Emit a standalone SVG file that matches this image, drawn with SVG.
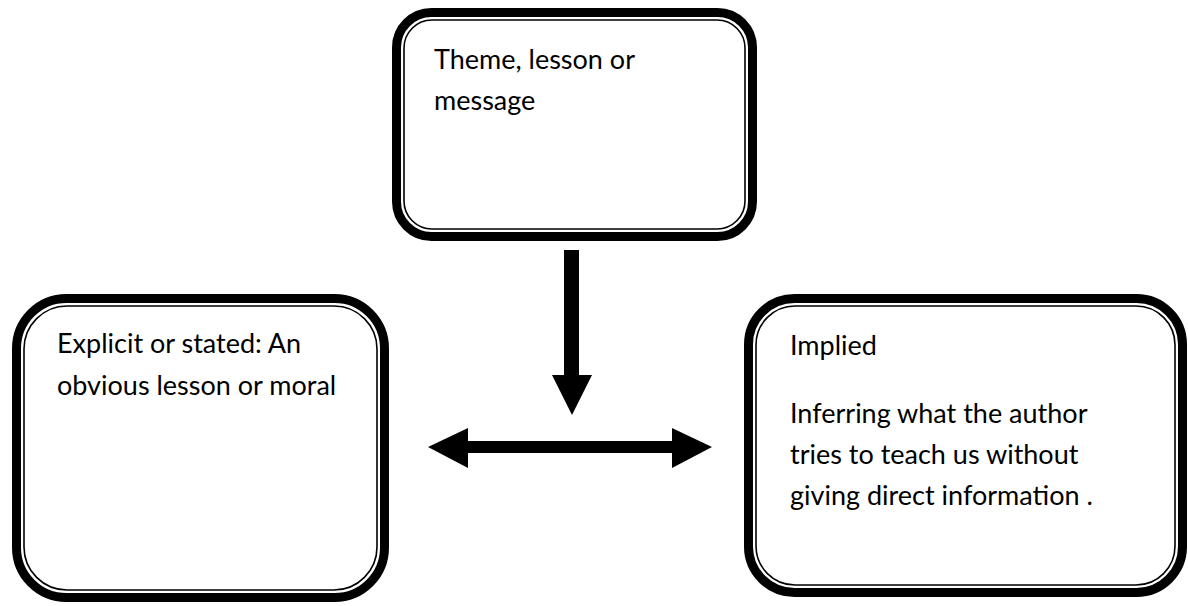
<svg xmlns="http://www.w3.org/2000/svg" width="1188" height="606" viewBox="0 0 1188 606">
<style>
.outer{fill:#fff;stroke:#000;stroke-width:9}
.inner{fill:none;stroke:#000;stroke-width:1.6}
.t{font-family:Lato,"Liberation Sans",sans-serif;font-size:27px;fill:#000}
</style>
<rect width="1188" height="606" fill="#fff"/>
<g id="theme">
<rect class="outer" x="396.5" y="12.5" width="356" height="224" rx="35"/>
<rect class="inner" x="404" y="20" width="341" height="209" rx="28"/>
<text class="t" x="434" y="69">Theme, lesson or</text>
<text class="t" x="434" y="110">message</text>
</g>
<g id="explicit">
<rect class="outer" x="16.5" y="298.5" width="368" height="299" rx="50"/>
<rect class="inner" x="24" y="306" width="353" height="284" rx="43"/>
<text class="t" x="57" y="353">Explicit or stated: An</text>
<text class="t" x="57" y="395">obvious lesson or moral</text>
</g>
<g id="implied">
<rect class="outer" x="748.5" y="298.5" width="434" height="294" rx="46"/>
<rect class="inner" x="756" y="306" width="419" height="279" rx="39"/>
<text class="t" x="790" y="355">Implied</text>
<text class="t" x="790" y="423">Inferring what the author</text>
<text class="t" x="790" y="464">tries to teach us without</text>
<text class="t" x="790" y="505">giving direct information .</text>
</g>
<g id="connectors">
<polygon points="564,250 579,250 579,375 592,375 572,415 552,375 564,375" fill="#000"/>
<polygon points="428,447 468,428 468,441 672,441 672,428 712,447 672,468 672,453 468,453 468,468" fill="#000"/>
</g>
</svg>
